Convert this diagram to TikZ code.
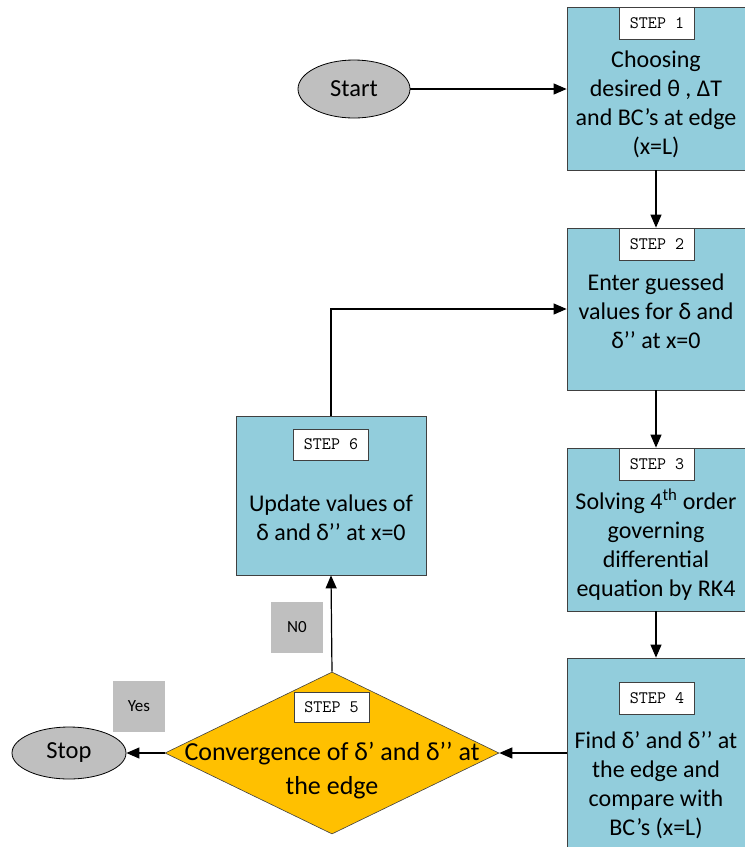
\documentclass[tikz,border=0pt]{standalone}
\usepackage{fontspec}
\setmainfont{Carlito}
\usetikzlibrary{shapes.geometric,arrows.meta}
\definecolor{boxblue}{HTML}{92CDDC}
\definecolor{decgold}{HTML}{FFC000}
\definecolor{termgray}{HTML}{BFBFBF}
\definecolor{edgegray}{HTML}{404040}
\begin{document}
\begin{tikzpicture}[x=1pt,y=-1pt,
  procbox/.style={draw=edgegray,line width=0.8pt,fill=boxblue,rectangle,inner sep=0pt},
  steplabel/.style={draw=edgegray,line width=0.6pt,fill=white,rectangle,minimum width=75pt,minimum height=32pt,inner sep=0pt,font=\ttfamily\fontsize{17.5}{19}\selectfont},
  bodytext/.style={align=center,font=\fontsize{24}{29}\selectfont,inner sep=0pt},
  term/.style={draw=black,line width=0.8pt,fill=termgray,ellipse,inner sep=0pt,font=\fontsize{24.5}{28}\selectfont},
  tag/.style={fill=termgray,rectangle,minimum width=52pt,minimum height=51pt,inner sep=0pt,font=\fontsize{17}{19}\selectfont},
  flow/.style={line width=1.2pt,-{Triangle[length=13pt,width=11pt]}}]
\useasboundingbox (0,0) rectangle (745,847);
\fill[white] (0,0) rectangle (745,847);
% process boxes
\node[procbox,minimum width=178pt,minimum height=163pt] (b1) at (656,88.5) {};
\node[procbox,minimum width=178pt,minimum height=162pt] (b2) at (656,309) {};
\node[procbox,minimum width=178pt,minimum height=163pt] (b3) at (656,529.5) {};
\node[procbox,minimum width=178pt,minimum height=210pt] (b4) at (656,763) {};
\node[procbox,minimum width=190pt,minimum height=159pt] (b6) at (331,495.5) {};
% decision
\node[diamond,draw=edgegray,line width=0.6pt,fill=decgold,minimum width=334pt,minimum height=162pt,inner sep=0pt,aspect=2.06] (d5) at (332,753) {};
% terminals
\node[term,minimum width=112pt,minimum height=58pt] (start) at (354,89) {Start};
\node[term,minimum width=114pt,minimum height=52pt] (stop) at (69,753) {Stop};
% step labels
\node[steplabel] (s1) at (657,23) {STEP 1};
\node[steplabel] (s2) at (657,244) {STEP 2};
\node[steplabel] (s3) at (657,464) {STEP 3};
\node[steplabel] (s4) at (657,698) {STEP 4};
\node[steplabel,minimum height=30pt] (s5) at (331.5,707) {STEP 5};
\node[steplabel,minimum height=31pt] (s6) at (331,444.5) {STEP 6};
% texts
\node[bodytext] (t1) at (656,104.5) {Choosing\\desired θ , ΔT\\and BC’s at edge\\(x=L)};
\node[bodytext] (t2) at (656,311) {Enter guessed\\values for δ and\\δ’’ at x=0};
\node[bodytext] (t3) at (656,545) {Solving 4\textsuperscript{th} order\\governing\\differential\\equation by RK4};
\node[bodytext] (t4) at (656,785.5) {Find δ’ and δ’’ at\\the edge and\\compare with\\BC’s (x=L)};
\node[bodytext] (t6) at (331,517.5) {Update values of\\δ and δ’’ at x=0};
\node[align=center,inner sep=0pt,font=\fontsize{26}{34}\selectfont] (t5) at (332,771) {Convergence of δ’ and δ’’ at\\the edge};
% tags
\node[tag] (no) at (297,627.5) {N0};
\node[tag] (yes) at (139,706.5) {Yes};
% connectors
\draw[flow] (start.east) -- (b1.west |- start.east);
\draw[flow] (b1.south) -- (b2.north);
\draw[flow] (b2.south) -- (b3.north);
\draw[flow] (b3.south) -- (b4.north);
\draw[flow] (b4.west |- d5.east) -- (d5.east);
\draw[flow] (d5.west) -- (stop.east);
\draw[flow] (d5.north) -- (b6.south);
\draw[flow] (b6.north) |- (b2.west);
\end{tikzpicture}
\end{document}
